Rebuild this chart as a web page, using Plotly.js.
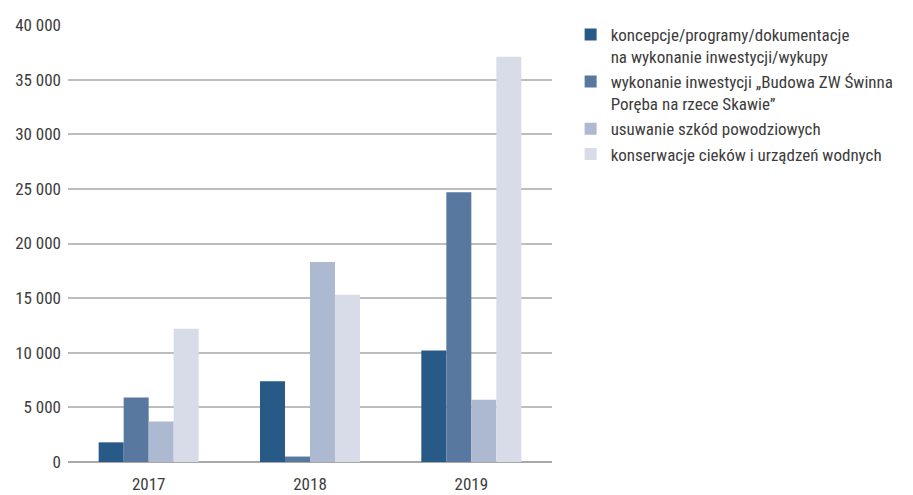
<!DOCTYPE html>
<html>
<head>
<meta charset="utf-8">
<script src="https://cdn.plot.ly/plotly-3.0.1.min.js"></script>
<style>html,body{margin:0;padding:0;background:#fff;}#chart{width:913px;height:495px;}</style>
</head>
<body>
<div id="chart"></div>
<script>
const years = ["2017", "2018", "2019"];
const seriesNames = [
  "koncepcje/programy/dokumentacje<br>na wykonanie inwestycji/wykupy",
  "wykonanie inwestycji „Budowa ZW Świnna<br>Poręba na rzece Skawie”",
  "usuwanie szkód powodziowych",
  "konserwacje cieków i urządzeń wodnych"
];
const koncepcje = [1800, 7400, 10200];
const swinnaPoreba = [5900, 500, 24700];
const powodzie = [3700, 18300, 5700];
const konserwacje = [12200, 15300, 37100];
const colors = ["#285a87", "#5878a0", "#adb9d1", "#d7dce8"];
const yTicks = [0, 5000, 10000, 15000, 20000, 25000, 30000, 35000, 40000];

const values = [koncepcje, swinnaPoreba, powodzie, konserwacje];
const FONT = "'Liberation Sans Narrow', 'Roboto Condensed', 'DejaVu Sans Condensed', sans-serif";

const traces = values.map((v, i) => ({
  type: "bar",
  x: years,
  y: v,
  name: seriesNames[i],
  marker: {color: colors[i], line: {width: 0}},
  hoverinfo: "y"
}));

const layout = {
  width: 913,
  height: 495,
  margin: {l: 68, r: 361, t: 25, b: 33, autoexpand: false},
  paper_bgcolor: "#ffffff",
  plot_bgcolor: "#ffffff",
  separators: ", ",
  font: {family: FONT, size: 17, color: "#3c3c3c"},
  barmode: "group",
  bargap: 0.38,
  bargroupgap: 0,
  showlegend: true,
  legend: {
    xref: "container", yref: "container",
    x: 0.625, y: 0.966, xanchor: "left", yanchor: "top",
    font: {family: FONT, size: 17, color: "#3c3c3c"},
    tracegroupgap: 0,
    traceorder: "normal",
    valign: "top",
    itemclick: false
  },
  xaxis: {
    type: "category",
    showgrid: false,
    showline: false,
    ticks: "",
    ticklabelstandoff: 10,
    tickfont: {family: FONT, size: 17, color: "#3c3c3c"},
    fixedrange: true
  },
  yaxis: {
    range: [0, 40000],
    tickvals: yTicks,
    tickformat: ",d",
    showgrid: true,
    gridcolor: "#bdbdbd",
    gridwidth: 2,
    zeroline: true,
    zerolinecolor: "#a8a8a8",
    zerolinewidth: 2,
    ticks: "",
    ticklabelstandoff: 6,
    tickfont: {family: FONT, size: 17, color: "#3c3c3c"},
    fixedrange: true
  }
};

Plotly.newPlot("chart", traces, layout, {displayModeBar: false, staticPlot: true});
</script>
</body>
</html>
